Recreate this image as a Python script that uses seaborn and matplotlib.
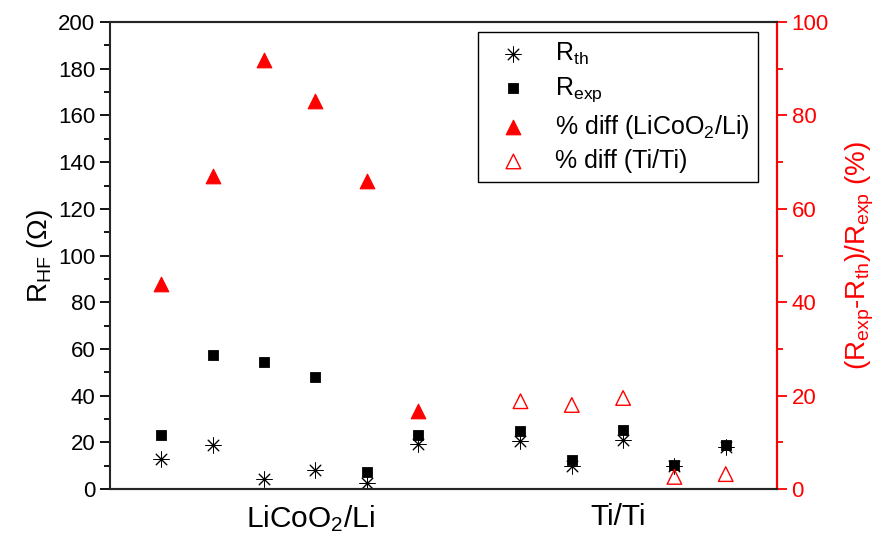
import numpy as np
import pandas as pd
import matplotlib
matplotlib.use("Agg")
import matplotlib.pyplot as plt
import seaborn as sns

# Data
x_licoo2 = [1, 2, 3, 4, 5, 6]
x_ti = [8, 9, 10, 11, 12]
r_th = [13, 19, 4.5, 8, 2.5, 19.5, 20.5, 10, 21, 10, 18.2]
r_exp = [23, 57.5, 54.5, 48, 7.2, 23, 25, 12.5, 25.5, 10.5, 19]
diff_licoo2 = [44, 67, 91.8, 83.2, 66, 16.8]
diff_ti = [18.8, 18, 19.5, 2.6, 3.2]
group_ticks = [3.9, 9.9]
group_labels = [r"LiCoO$_2$/Li", "Ti/Ti"]

x_all = x_licoo2 + x_ti

sns.set_style("ticks")
plt.rcParams["font.family"] = ["Liberation Sans", "DejaVu Sans"]
plt.rcParams["mathtext.fontset"] = "custom"
plt.rcParams["mathtext.rm"] = "Liberation Sans"
plt.rcParams["mathtext.it"] = "Liberation Sans:italic"
plt.rcParams["mathtext.default"] = "regular"
plt.rcParams["text.color"] = "black"
plt.rcParams["axes.labelcolor"] = "black"
plt.rcParams["xtick.color"] = "black"
plt.rcParams["ytick.color"] = "black"

fig = plt.figure(figsize=(8.78, 5.38), dpi=100)
ax = fig.add_axes([0.1253, 0.091, 0.7597, 0.868])
ax2 = ax.twinx()

# Resistances (left axis)
sns.scatterplot(x=x_all, y=r_th, ax=ax, marker=(8, 2, 0), color="black",
                s=120, linewidth=0.7, label=r"R$_{th}$", legend=False)
sns.scatterplot(x=x_all, y=r_exp, ax=ax, marker="s", color="black",
                edgecolor="black", s=55, label=r"R$_{exp}$", legend=False)

# Percent difference (right axis)
sns.scatterplot(x=x_licoo2, y=diff_licoo2, ax=ax2, marker="^", color="red",
                edgecolor="red", s=110, label=r"% diff (LiCoO$_2$/Li)", legend=False)
sns.scatterplot(x=x_ti, y=diff_ti, ax=ax2, marker="^", color="red",
                facecolor="none", edgecolor="red", s=110, linewidth=1.0,
                label="% diff (Ti/Ti)", legend=False)

ax.set_xlim(0, 13)
ax.set_ylim(0, 200)
ax2.set_ylim(0, 100)

ax.set_xticks(group_ticks)
ax.set_xticklabels(group_labels, fontsize=21.5)
ax.tick_params(axis="x", length=0, pad=10)

ax.set_yticks(np.arange(0, 201, 20))
ax.set_yticks(np.arange(10, 200, 20), minor=True)
ax.tick_params(axis="y", which="major", length=7, width=1.3, labelsize=16, direction="out")
ax.tick_params(axis="y", which="minor", length=4, width=1.3, direction="out")
ax.set_ylabel(r"R$_{HF}$ ($\Omega$)", fontsize=20, labelpad=2)

ax2.set_yticks(np.arange(0, 101, 20))
ax2.set_yticks(np.arange(10, 100, 20), minor=True)
ax2.tick_params(axis="y", which="major", length=7, width=1.3, labelsize=16,
                colors="red", direction="out")
ax2.tick_params(axis="y", which="minor", length=4, width=1.3, colors="red", direction="out")
ax2.set_ylabel(r"(R$_{exp}$-R$_{th}$)/R$_{exp}$ (%)", fontsize=20, color="red", labelpad=11)

for a in (ax, ax2):
    for sp in a.spines.values():
        sp.set_linewidth(1.5)
        sp.set_visible(True)
ax2.spines["right"].set_color("red")
ax2.spines["left"].set_visible(False)

h1, l1 = ax.get_legend_handles_labels()
h2, l2 = ax2.get_legend_handles_labels()
leg = ax2.legend(h1 + h2, l1 + l2, loc="upper right", fontsize=18,
                 frameon=True, fancybox=False, edgecolor="black",
                 framealpha=1, handletextpad=0.6, labelspacing=0.34,
                 borderpad=0.35, borderaxespad=0, handlelength=2.1,
                 bbox_to_anchor=(0.9715, 0.979))
leg.get_frame().set_linewidth(1.0)

fig.savefig("out.png", dpi=100)
